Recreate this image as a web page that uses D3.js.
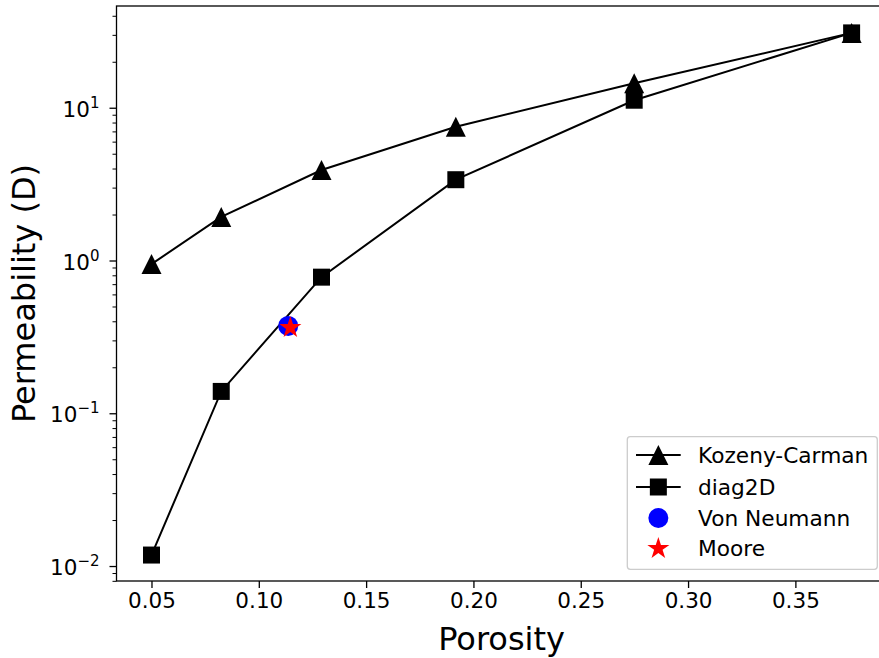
<!DOCTYPE html>
<html>
<head>
<meta charset="utf-8">
<script src="https://cdn.jsdelivr.net/npm/d3@7"></script>
<style>
  html, body { margin: 0; padding: 0; background: #fff; }
  svg { display: block; }
  text { font-family: "DejaVu Sans", sans-serif; fill: #000; }
</style>
</head>
<body>
<svg id="chart" width="879" height="658"></svg>
<script>
// ---- data ----
const porosity = [0.05, 0.0825, 0.1292, 0.1918, 0.2749, 0.3762];
const kozenyCarman = [0.947, 1.93, 3.91, 7.51, 14.45, 30.9];
const diag2D = [0.0118, 0.139, 0.778, 3.38, 11.2, 30.9];
const vonNeumannX = [0.1137];
const vonNeumannY = [0.373];
const mooreX = [0.1147];
const mooreY = [0.364];
const xTicks = [0.05, 0.10, 0.15, 0.20, 0.25, 0.30, 0.35];
const yTickExps = [-2, -1, 0, 1];
const legendLabels = ["Kozeny-Carman", "diag2D", "Von Neumann", "Moore"];

// ---- layout ----
const W = 879, H = 658;
const pLeft = 116.5, pRight = 886.6, pTop = 6, pBottom = 581;
const svg = d3.select("#chart");

const x = d3.scaleLinear().domain([0.0337, 0.3925]).range([pLeft, pRight]);
const y = d3.scaleLog().domain([Math.pow(10, -2.098), Math.pow(10, 1.666)]).range([pBottom, pTop]);

// marker paths
function triPath(s) { return `M0,${-s/2}L${-s/2},${s/2}L${s/2},${s/2}Z`; }
function sqPath(s) { return `M${-s/2},${-s/2}h${s}v${s}h${-s}Z`; }
function starPath(R) {
  const r = R * 0.381966; let p = "";
  for (let i = 0; i < 10; i++) {
    const rad = i % 2 === 0 ? R : r;
    const a = -Math.PI / 2 + i * Math.PI / 5;
    p += (i === 0 ? "M" : "L") + (rad * Math.cos(a)).toFixed(2) + "," + (rad * Math.sin(a)).toFixed(2);
  }
  return p + "Z";
}
const TRI = 20, SQ = 17, CIRC_R = 10, STAR_R = 11.6;

const plot = svg.append("g");

const line = d3.line().x(d => x(d[0])).y(d => y(d[1]));
const kcData = porosity.map((p, i) => [p, kozenyCarman[i]]);
const dgData = porosity.map((p, i) => [p, diag2D[i]]);

plot.append("path").datum(kcData).attr("d", line).attr("fill", "none").attr("stroke", "#000").attr("stroke-width", 2);
plot.selectAll(".kc").data(kcData).join("path").attr("class", "kc")
  .attr("transform", d => `translate(${x(d[0])},${y(d[1])})`).attr("d", triPath(TRI)).attr("fill", "#000");

plot.append("path").datum(dgData).attr("d", line).attr("fill", "none").attr("stroke", "#000").attr("stroke-width", 2);
plot.selectAll(".dg").data(dgData).join("path").attr("class", "dg")
  .attr("transform", d => `translate(${x(d[0])},${y(d[1])})`).attr("d", sqPath(SQ)).attr("fill", "#000");

plot.selectAll(".vn").data(vonNeumannX.map((v, i) => [v, vonNeumannY[i]])).join("circle").attr("class", "vn")
  .attr("cx", d => x(d[0])).attr("cy", d => y(d[1])).attr("r", CIRC_R).attr("fill", "#0000ff");
plot.selectAll(".mo").data(mooreX.map((v, i) => [v, mooreY[i]])).join("path").attr("class", "mo")
  .attr("transform", d => `translate(${x(d[0])},${y(d[1])})`).attr("d", starPath(STAR_R)).attr("fill", "#ff0000");

// ---- axes ----
const xAxis = d3.axisBottom(x).tickValues(xTicks).tickFormat(d3.format(".2f")).tickSize(7).tickPadding(5);
const gx = svg.append("g").attr("transform", `translate(0,${pBottom})`).call(xAxis);
gx.select(".domain").remove();
gx.selectAll(".tick line").attr("stroke", "#000").attr("stroke-width", 1.3);
gx.selectAll(".tick text").attr("font-size", 21.5).attr("font-family", "DejaVu Sans").attr("fill", "#000");

// y major
const yMajor = yTickExps.map(e => Math.pow(10, e));
const yAxis = d3.axisLeft(y).tickValues(yMajor).tickFormat("").tickSize(7);
const gy = svg.append("g").attr("transform", `translate(${pLeft},0)`).call(yAxis);
gy.select(".domain").remove();
gy.selectAll(".tick line").attr("stroke", "#000").attr("stroke-width", 1.3);
gy.selectAll(".tick").each(function(d) {
  const e = Math.round(Math.log10(d));
  const t = d3.select(this).append("text").attr("x", -17).attr("y", 8.5)
    .attr("text-anchor", "end").attr("font-size", 21.5).attr("fill", "#000");
  t.append("tspan").text("10");
  t.append("tspan").attr("dy", -9).attr("font-size", 15).text(e < 0 ? "\u2212" + Math.abs(e) : String(e));
});

// y minor
const [d0, d1] = y.domain();
const minor = [];
for (let e = -3; e <= 2; e++) for (let k = 2; k <= 9; k++) {
  const v = k * Math.pow(10, e);
  if (v >= d0 && v <= d1) minor.push(v);
}
const yMinor = d3.axisLeft(y).tickValues(minor).tickFormat("").tickSize(4);
const gym = svg.append("g").attr("transform", `translate(${pLeft},0)`).call(yMinor);
gym.select(".domain").remove();
gym.selectAll(".tick line").attr("stroke", "#000").attr("stroke-width", 1);

// spines
const sp = svg.append("g").attr("fill", "none").attr("stroke", "#000").attr("stroke-width", 1.3);
sp.append("rect").attr("x", pLeft).attr("y", pTop).attr("width", pRight - pLeft).attr("height", pBottom - pTop);

// labels
svg.append("text").attr("x", (pLeft + pRight) / 2).attr("y", 650).attr("text-anchor", "middle")
  .attr("font-size", 32).text("Porosity");
svg.append("text").attr("transform", `translate(35,${(pTop + pBottom) / 2}) rotate(-90)`).attr("text-anchor", "middle")
  .attr("font-size", 32).text("Permeability (D)");

// ---- legend ----
const lg = svg.append("g");
lg.append("rect").attr("x", 627.3).attr("y", 436.7).attr("width", 250).attr("height", 132.6).attr("rx", 3)
  .attr("fill", "#fff").attr("fill-opacity", 0.8).attr("stroke", "#cccccc").attr("stroke-width", 1.3);
const rowY = [455, 487, 518, 548.5];
const lx0 = 636, lx1 = 680.7, lmx = (lx0 + lx1) / 2, ltx = 698;
legendLabels.forEach((lab, i) => {
  const gy0 = rowY[i];
  if (i < 2) {
    lg.append("line").attr("x1", lx0).attr("x2", lx1).attr("y1", gy0).attr("y2", gy0).attr("stroke", "#000").attr("stroke-width", 2);
    lg.append("path").attr("transform", `translate(${lmx},${gy0})`).attr("d", i === 0 ? triPath(TRI) : sqPath(SQ)).attr("fill", "#000");
  } else if (i === 2) {
    lg.append("circle").attr("cx", lmx).attr("cy", gy0).attr("r", CIRC_R).attr("fill", "#0000ff");
  } else {
    lg.append("path").attr("transform", `translate(${lmx},${gy0})`).attr("d", starPath(STAR_R)).attr("fill", "#ff0000");
  }
  lg.append("text").attr("x", ltx).attr("y", gy0 + 7.5).attr("font-size", 21.7).text(lab);
});
</script>
</body>
</html>
